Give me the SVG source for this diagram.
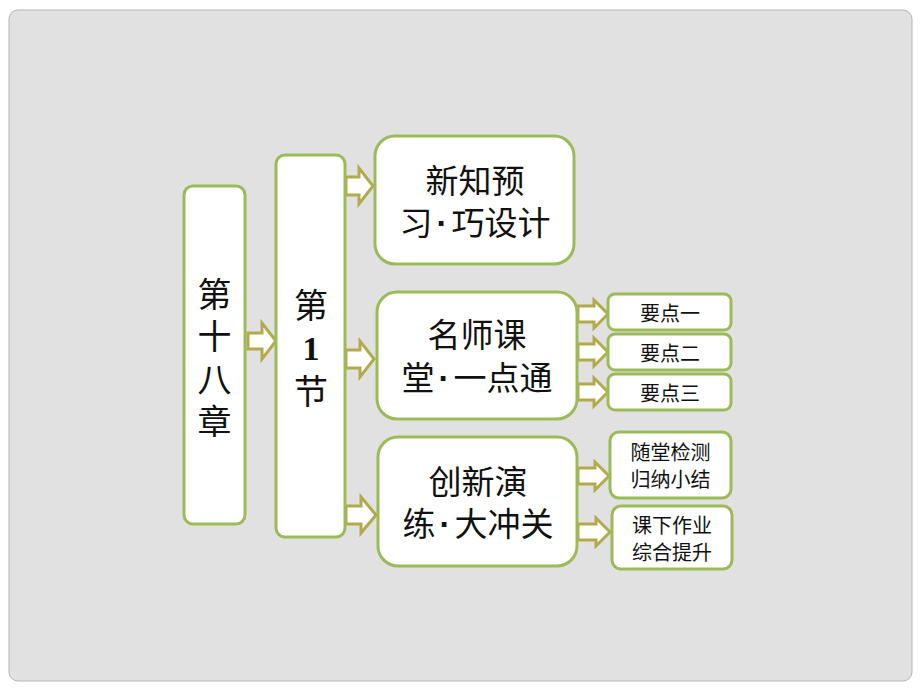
<svg xmlns="http://www.w3.org/2000/svg" width="920" height="690" viewBox="0 0 920 690">
<style>
.box{fill:#fff;stroke:#9bbb59;stroke-width:3}
.arr{fill:#fff;stroke:#b3aa4c;stroke-width:3;stroke-linejoin:miter}
.t{font-family:"Noto Sans CJK SC","Noto Sans",sans-serif;fill:#111;text-anchor:middle;dominant-baseline:central}
.big{font-size:34px}
.mid{font-size:33px}
.sm{font-size:20px}
.num{font-family:"Liberation Serif",serif;font-weight:bold}
.dot{font-family:"Liberation Sans",sans-serif;font-weight:bold;baseline-shift:-2px}
.vert{writing-mode:vertical-rl;text-anchor:start;letter-spacing:8.5px}
</style>
<rect x="0" y="0" width="920" height="690" fill="#fff"/>
<rect x="9" y="10" width="903" height="671" rx="9" fill="#e1e1e1" stroke="#b4b4b4" stroke-width="1"/>
<g id="connectors">
<path class="arr" d="M248,333 H262 V323 L276,341 L262,359 V349 H248 Z"/>
<path class="arr" d="M346,177 H359 V168 L373,186 L359,204 V195 H346 Z"/>
<path class="arr" d="M346,350 H360 V341 L374,359 L360,377 V368 H346 Z"/>
<path class="arr" d="M346,506 H361 V497 L376,515 L361,533 V524 H346 Z"/>
<path class="arr" d="M578,306 H594 V300 L608,314 L594,328 V322 H578 Z"/>
<path class="arr" d="M578,344 H594 V338 L608,352 L594,366 V360 H578 Z"/>
<path class="arr" d="M578,384 H594 V378 L608,392 L594,406 V400 H578 Z"/>
<path class="arr" d="M578,468 H595 V462 L609,476 L595,490 V484 H578 Z"/>
<path class="arr" d="M578,524 H596 V518 L610,532 L596,546 V540 H578 Z"/>
</g>
<g id="n-chapter">
<rect class="box" x="184" y="186" width="61" height="338" rx="9"/>
<text class="t big vert" x="214.5" y="277">第十八章</text>
</g>
<g id="n-section">
<rect class="box" x="276" y="155" width="69" height="382" rx="9"/>
<text class="t big" x="311" y="303">第</text>
<text class="t big num" x="311" y="348">1</text>
<text class="t big" x="311" y="389">节</text>
</g>
<g id="n-preview">
<rect class="box" x="375" y="136" width="199" height="128" rx="20"/>
<text class="t mid" x="475" y="179">新知预</text>
<text class="t mid" x="475" y="221">习<tspan class="dot" dx="4">·</tspan><tspan dx="4">巧设计</tspan></text>
</g>
<g id="n-class">
<rect class="box" x="377" y="292" width="200" height="127" rx="20"/>
<text class="t mid" x="477" y="333">名师课</text>
<text class="t mid" x="477" y="376">堂<tspan class="dot" dx="4">·</tspan><tspan dx="4">一点通</tspan></text>
</g>
<g id="n-practice">
<rect class="box" x="378" y="437" width="199" height="129" rx="20"/>
<text class="t mid" x="478" y="480">创新演</text>
<text class="t mid" x="478" y="522">练<tspan class="dot" dx="4">·</tspan><tspan dx="4">大冲关</tspan></text>
</g>
<g id="n-point1">
<rect class="box" x="608" y="294" width="123" height="36" rx="7"/>
<text class="t sm" x="670" y="312">要点一</text>
</g>
<g id="n-point2">
<rect class="box" x="608" y="334" width="123" height="36" rx="7"/>
<text class="t sm" x="670" y="352">要点二</text>
</g>
<g id="n-point3">
<rect class="box" x="608" y="374" width="123" height="36" rx="7"/>
<text class="t sm" x="670" y="392">要点三</text>
</g>
<g id="n-test">
<rect class="box" x="610" y="432" width="121" height="66" rx="9"/>
<text class="t sm" x="670.5" y="451">随堂检测</text>
<text class="t sm" x="670.5" y="478">归纳小结</text>
</g>
<g id="n-homework">
<rect class="box" x="612" y="506" width="120" height="63" rx="9"/>
<text class="t sm" x="672" y="524">课下作业</text>
<text class="t sm" x="672" y="551">综合提升</text>
</g>
</svg>
